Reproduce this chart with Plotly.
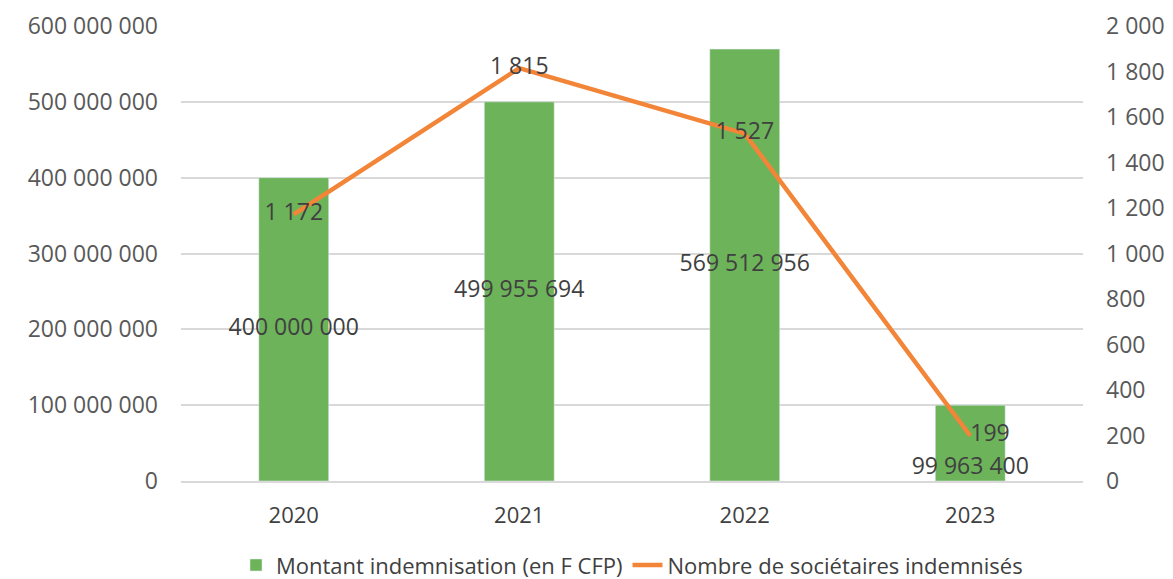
import plotly.graph_objects as go

years = ["2020", "2021", "2022", "2023"]
montant = [400000000, 499955694, 569512956, 99963400]
societaires = [1172, 1815, 1527, 199]
left_ticks = [0, 100000000, 200000000, 300000000, 400000000, 500000000, 600000000]
right_ticks = [0, 200, 400, 600, 800, 1000, 1200, 1400, 1600, 1800, 2000]

def fmt(v):
    return f"{v:,}".replace(",", " ")

GREEN = "#6DB35A"
ORANGE = "#F28538"
FONT = "Open Sans"

fig = go.Figure()
fig.add_trace(go.Bar(
    x=years, y=montant, name="Montant indemnisation (en F CFP)",
    marker_color=GREEN, yaxis="y", hoverinfo="skip",
))
fig.add_trace(go.Scatter(
    x=years, y=[v / 2 for v in montant], mode="markers+text",
    marker=dict(size=[0, 0, 0, 20], color="rgba(0,0,0,0)",
                line=dict(width=0, color="rgba(0,0,0,0)")),
    text=[fmt(v) for v in montant],
    textposition=["middle center", "middle center", "middle center", "bottom center"],
    textfont=dict(family=FONT, size=23, color="#404040"),
    showlegend=False, yaxis="y", hoverinfo="skip",
))
fig.add_trace(go.Scatter(
    x=years, y=societaires, name="Nombre de sociétaires indemnisés",
    mode="lines+text", line=dict(color=ORANGE, width=4.5),
    text=[fmt(v) for v in societaires],
    textposition=["middle center", "middle center", "middle center", "middle right"],
    textfont=dict(family=FONT, size=23, color="#404040"),
    yaxis="y2", hoverinfo="skip",
))

fig.update_layout(
    width=1173, height=579,
    margin=dict(l=181, r=90, t=26, b=98, autoexpand=False),
    paper_bgcolor="white", plot_bgcolor="white",
    font=dict(family=FONT, size=23, color="#595959"),
    separators=". ",
    bargap=0.69,
    xaxis=dict(type="category", range=[-0.5, 3.5], showgrid=False,
               showline=True, linecolor="#D9D9D9", linewidth=1.5,
               ticks="", tickfont=dict(size=22, color="#404040"),
               ticklabelstandoff=14),
    yaxis=dict(range=[0, 600000000], tickvals=left_ticks,
               ticktext=[fmt(v) for v in left_ticks],
               showgrid=True, gridcolor="#D9D9D9", gridwidth=1.5,
               zeroline=False, showline=False, ticklabelstandoff=22),
    yaxis2=dict(range=[0, 2000], tickvals=right_ticks,
                ticktext=[fmt(v) for v in right_ticks],
                overlaying="y", side="right", showgrid=False,
                zeroline=False, showline=False, ticklabelstandoff=22),
    legend=dict(orientation="h", x=0.5, xanchor="center", y=-0.185, yanchor="middle",
                font=dict(size=22, color="#404040"),
                tracegroupgap=0),
)

fig.write_html("out.html", config={"displayModeBar": False},
               post_script="document.body.style.margin='0';")
